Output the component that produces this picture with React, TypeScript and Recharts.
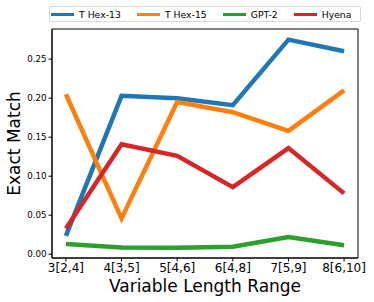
import { LineChart, Line, XAxis, YAxis, Label, ReferenceArea } from "recharts";

const CATEGORIES = ["3[2,4]", "4[3,5]", "5[4,6]", "6[4,8]", "7[5,9]", "8[6,10]"];
const THEX13 = [0.0235, 0.203, 0.2, 0.191, 0.275, 0.26];
const THEX15 = [0.205, 0.046, 0.195, 0.182, 0.158, 0.21];
const GPT2 = [0.013, 0.0088, 0.0082, 0.0095, 0.022, 0.0115];
const HYENA = [0.033, 0.141, 0.126, 0.086, 0.136, 0.078];
const Y_TICKS = [0, 0.05, 0.1, 0.15, 0.2, 0.25];

const SERIES = [
  { key: "thex13", name: "T Hex-13", color: "#1f77b4" },
  { key: "thex15", name: "T Hex-15", color: "#ff7f0e" },
  { key: "gpt2", name: "GPT-2", color: "#2ca02c" },
  { key: "hyena", name: "Hyena", color: "#d62728" },
];

const data = CATEGORIES.map((c, i) => ({
  x: i,
  thex13: THEX13[i],
  thex15: THEX15[i],
  gpt2: GPT2[i],
  hyena: HYENA[i],
}));

const X_DOMAIN = [-0.25, 5.25];
const Y_DOMAIN = [-0.0048, 0.2886];
const FONT = "'DejaVu Sans', sans-serif";

export default function App() {
  return (
    <div style={{ position: "fixed", left: 0, top: 0, width: 374, height: 302, fontFamily: FONT, background: "#fff" }}>
      {/* legend */}
      <div
        style={{
          position: "absolute",
          left: 49,
          top: 6,
          width: 312,
          height: 16,
          boxSizing: "border-box",
          border: "1px solid #d9d9d9",
          borderRadius: 2,
          display: "flex",
          alignItems: "center",
          paddingLeft: 1,
          fontSize: 9.3,
          color: "#000",
        }}
      >
        {SERIES.map((s, i) => (
          <div key={s.key} style={{ display: "flex", alignItems: "center", marginLeft: i === 0 ? 0 : 16 }}>
            <div style={{ width: 23, height: 3, background: s.color }} />
            <span style={{ marginLeft: 5, whiteSpace: "nowrap" }}>{s.name}</span>
          </div>
        ))}
      </div>
      <div style={{ position: "absolute", left: 0, top: 0 }}>
        <LineChart width={374} height={302} data={data} margin={{ top: 29, right: 16, bottom: 0, left: 0 }}>
          <XAxis
            dataKey="x"
            type="number"
            domain={X_DOMAIN}
            ticks={[0, 1, 2, 3, 4, 5]}
            tickFormatter={(v) => CATEGORIES[v]}
            height={44}
            stroke="#000"
            tickSize={3.5}
            tickMargin={2}
            tick={{ fill: "#000", fontSize: 12, fontFamily: FONT }}
            interval={0}
          >
            <Label
              content={({ viewBox }: any) => (
                <text x={viewBox.x + viewBox.width / 2} y={292} textAnchor="middle" fontSize={17} fontFamily={FONT} fill="#000">
                  Variable Length Range
                </text>
              )}
            />
          </XAxis>
          <YAxis
            type="number"
            domain={Y_DOMAIN}
            ticks={Y_TICKS}
            tickFormatter={(v) => v.toFixed(2)}
            width={52}
            stroke="#000"
            tickSize={3.5}
            tickMargin={2}
            tick={{ fill: "#000", fontSize: 8.7, fontFamily: FONT }}
            interval={0}
          >
            <Label
              content={({ viewBox }: any) => {
                const cy = viewBox.y + viewBox.height / 2;
                return (
                  <text x={14} y={cy} transform={`rotate(-90, 14, ${cy})`} textAnchor="middle" dominantBaseline="central" fontSize={17} fontFamily={FONT} fill="#000">
                    Exact Match
                  </text>
                );
              }}
            />
          </YAxis>
          {/* frame around plot area */}
          <ReferenceArea
            x1={X_DOMAIN[0]}
            x2={X_DOMAIN[1]}
            y1={Y_DOMAIN[0]}
            y2={Y_DOMAIN[1]}
            fill="none"
            stroke="#000"
            strokeWidth={1}
            ifOverflow="visible"
          />
          {SERIES.map((s) => (
            <Line
              key={s.key}
              dataKey={s.key}
              name={s.name}
              stroke={s.color}
              strokeWidth={4.5}
              dot={false}
              activeDot={false}
              isAnimationActive={false}
              type="linear"
            />
          ))}
        </LineChart>
      </div>
    </div>
  );
}
